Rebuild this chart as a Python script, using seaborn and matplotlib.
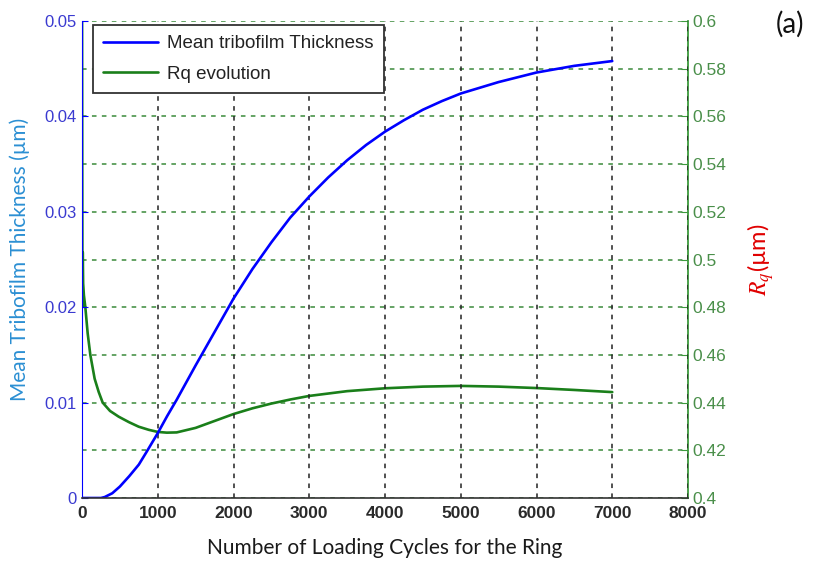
import numpy as np
import pandas as pd
import matplotlib
matplotlib.use("Agg")
import matplotlib.pyplot as plt
from matplotlib.ticker import FuncFormatter, MultipleLocator
from matplotlib.lines import Line2D
import seaborn as sns

# Mean tribofilm thickness (µm) against loading cycles
cycles_film = [0, 250, 300, 400, 500, 625, 750, 850, 1000, 1125, 1250, 1500,
               1750, 2000, 2250, 2500, 2750, 3000, 3250, 3500, 3750, 4000,
               4250, 4500, 4750, 5000, 5500, 6000, 6500, 7000]
thickness = [0.0, 0.0, 0.0001, 0.0005, 0.0012, 0.0023, 0.0035, 0.0048, 0.0068,
             0.0086, 0.0103, 0.0139, 0.0174, 0.0209, 0.0240, 0.0268, 0.0294,
             0.0316, 0.0336, 0.0354, 0.0370, 0.0384, 0.0396, 0.0407, 0.0416,
             0.0424, 0.0436, 0.0446, 0.0453, 0.0458]

# Rq roughness (µm) against loading cycles
cycles_rq = [0, 6, 10, 15, 25, 44, 75, 110, 167, 220, 273, 370, 484, 620, 748,
             880, 1000, 1120, 1250, 1500, 1750, 2000, 2250, 2500, 2750, 3000,
             3500, 4000, 4500, 5000, 5500, 6000, 6500, 7000]
rq = [0.62, 0.48, 0.503, 0.490, 0.485, 0.480, 0.469, 0.460, 0.450, 0.4445,
      0.4400, 0.4365, 0.4341, 0.4318, 0.4299, 0.4286, 0.4277, 0.4274, 0.4275,
      0.4294, 0.4323, 0.4352, 0.4376, 0.4396, 0.4413, 0.4428, 0.4448, 0.4460,
      0.4467, 0.4470, 0.4467, 0.4461, 0.4453, 0.4444]

film_df = pd.DataFrame({"cycles": cycles_film, "thickness": thickness})
rq_df = pd.DataFrame({"cycles": cycles_rq, "rq": rq})

sns.set_style("white")
plt.rcParams["font.family"] = ["Liberation Sans", "DejaVu Sans"]
plt.rcParams["mathtext.fontset"] = "stix"

BLUE = "#0000ff"
GREEN = "#1a7f1a"
GRID_GREEN = "#3a8a3a"
TICK_BLUE = "#3a3ad0"
TICK_GREEN = "#4a8f4a"
LABEL_BLUE = "#2b8fd3"

fig = plt.figure(figsize=(8.19, 5.70), dpi=100)
ax1 = fig.add_axes([82 / 819, 1 - 498 / 570, 606 / 819, 477 / 570])
ax2 = ax1.twinx()

# Roughness on the right axis (drawn underneath)
sns.lineplot(data=rq_df, x="cycles", y="rq", ax=ax2, color=GREEN,
             linewidth=1.9, estimator=None, sort=False, legend=False)
# Thickness on the left axis
sns.lineplot(data=film_df, x="cycles", y="thickness", ax=ax1, color=BLUE,
             linewidth=1.9, estimator=None, sort=False, legend=False)

ax1.set_zorder(ax2.get_zorder() + 1)
ax1.patch.set_visible(False)

ax1.set_xlim(0, 8000)
ax1.set_ylim(0, 0.05)
ax2.set_ylim(0.4, 0.6)
ax1.xaxis.set_major_locator(MultipleLocator(1000))
ax1.yaxis.set_major_locator(MultipleLocator(0.01))
ax2.yaxis.set_major_locator(MultipleLocator(0.02))
ax1.yaxis.set_major_formatter(FuncFormatter(lambda v, p: f"{round(v, 3):g}"))
ax2.yaxis.set_major_formatter(FuncFormatter(lambda v, p: f"{round(v, 2):g}"))
ax1.xaxis.set_major_formatter(FuncFormatter(lambda v, p: f"{int(v)}"))

# Grid: vertical black dashes from the x axis, horizontal green dashes from the right axis
ax1.grid(True, axis="x", color="#222222", linestyle=(0, (3, 3.5)), linewidth=1.1)
ax1.grid(False, axis="y")
ax2.grid(True, axis="y", color=GRID_GREEN, linestyle=(0, (3, 3.5)), linewidth=1.1)
ax2.grid(False, axis="x")

for s in ["top", "right"]:
    ax1.spines[s].set_visible(False)
for s in ["top", "left", "bottom"]:
    ax2.spines[s].set_visible(False)
ax1.spines["left"].set_color(BLUE)
ax1.spines["left"].set_linewidth(0.8)
ax1.spines["bottom"].set_color("#333333")
ax1.spines["bottom"].set_linewidth(1.2)
ax2.spines["right"].set_color("#3c9a3c")
ax2.spines["right"].set_linewidth(1.3)

ax1.tick_params(axis="x", direction="in", length=5, colors="#333333",
                labelsize=12.5, labelcolor="#2a2a2a", pad=6)
for lbl in ax1.get_xticklabels():
    lbl.set_fontweight("bold")
ax1.tick_params(axis="y", direction="in", length=4, colors=BLUE,
                labelsize=12, labelcolor=TICK_BLUE, pad=4)
ax2.tick_params(axis="y", direction="in", length=5, colors="#3c9a3c",
                labelsize=12.5, labelcolor=TICK_GREEN, pad=3)

ax1.set_xlabel("Number of Loading Cycles for the Ring", fontsize=15,
               family=["Lato", "DejaVu Sans"], color="#1a1a1a", labelpad=12)
ax1.set_ylabel("Mean Tribofilm Thickness (µm)", fontsize=15,
               family=["Lato", "DejaVu Sans"], color=LABEL_BLUE, labelpad=10)
ax2.set_ylabel(r"$R_q$(µm)", fontsize=17, family=["Lato", "DejaVu Sans"],
               color="#e00000", labelpad=14)

handles = [Line2D([], [], color=BLUE, linewidth=1.9),
           Line2D([], [], color=GREEN, linewidth=1.9)]
leg = ax1.legend(handles, ["Mean tribofilm Thickness", "Rq evolution"],
                 loc="upper left", bbox_to_anchor=(0.018, 0.992),
                 borderaxespad=0, fontsize=13.5, frameon=True, fancybox=False,
                 handlelength=2.9, handletextpad=0.5, labelspacing=0.7,
                 borderpad=0.55)
leg.get_frame().set_edgecolor("#333333")
leg.get_frame().set_linewidth(1.3)
leg.get_frame().set_facecolor("white")
leg.get_frame().set_alpha(1)
for t in leg.get_texts():
    t.set_color("#222222")

fig.text(790 / 819, 1 - 24 / 570, "(a)", fontsize=20, ha="center", va="center",
         family=["Lato", "DejaVu Sans"], color="#111111")

fig.savefig("out.png", dpi=100)
